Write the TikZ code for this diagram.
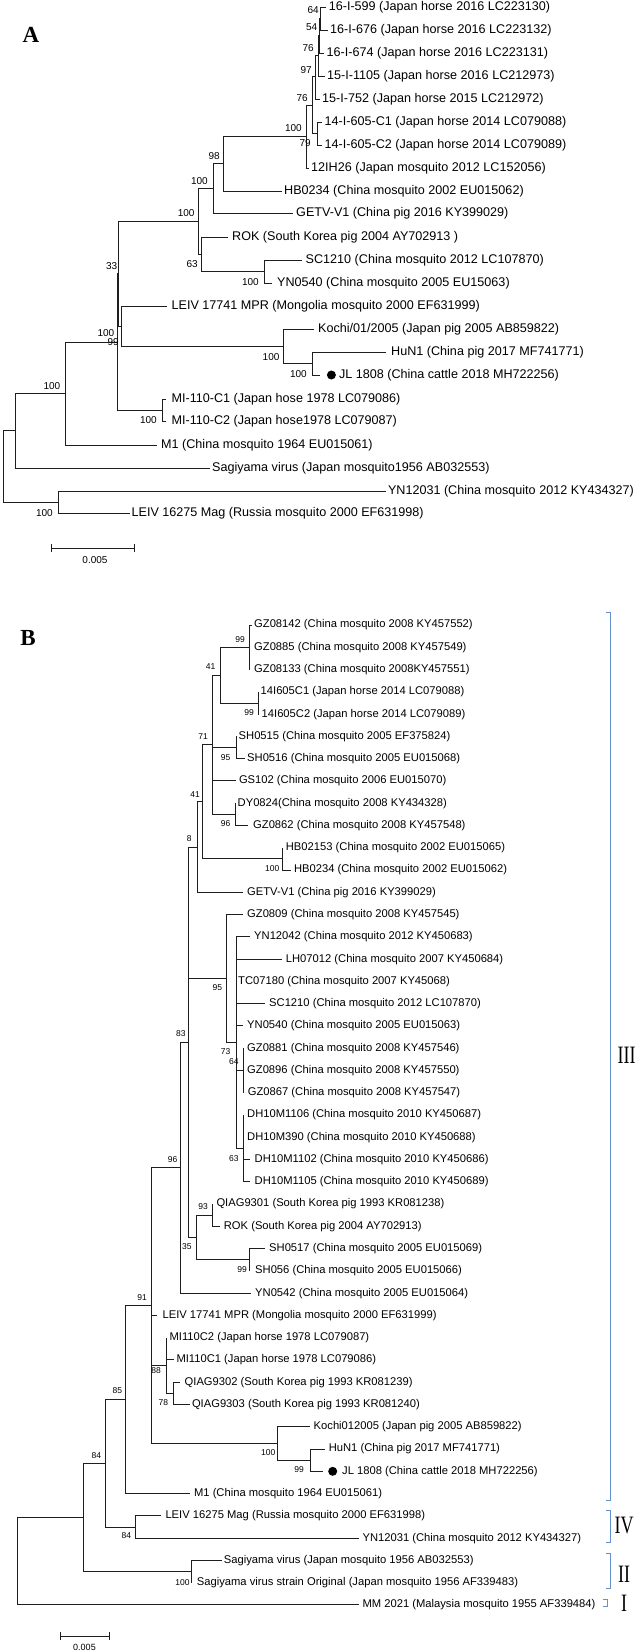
\documentclass[tikz,border=0pt]{standalone}
\usepackage{fontspec}
\usepackage{graphicx}
\setmainfont{Liberation Sans}
\newfontfamily\rmn{Liberation Serif}
\definecolor{ln}{RGB}{30,30,30}
\definecolor{brk}{RGB}{100,145,205}
\tikzset{
 edge/.style={draw=ln, line width=0.9pt},
 leafA/.style={anchor=west, inner sep=0pt, font=\fontsize{12.6}{14}\selectfont},
 leafB/.style={anchor=west, inner sep=0pt, font=\fontsize{11.2}{13}\selectfont},
 bsA/.style={anchor=east, inner sep=0pt, font=\fontsize{10}{11}\selectfont},
 bsB/.style={anchor=east, inner sep=0pt, font=\fontsize{8.5}{10}\selectfont},
 panel/.style={inner sep=0pt, font=\rmn\bfseries\fontsize{23}{25}\selectfont},
 clade/.style={inner sep=0pt, font=\rmn\fontsize{25}{27}\selectfont},
 bracket/.style={draw=brk, line width=0.7pt},
 dot/.style={circle, fill=black, inner sep=0pt, minimum size=9pt},
}
\newcommand\lfa[5]{\coordinate (#1) at (#2,#4); \node[leafA] (#1t) at (#3,#4) {#5};}
\newcommand\lfb[5]{\coordinate (#1) at (#2,#4); \node[leafB] (#1t) at (#3,#4) {#5};}
\newcommand\inn[3]{\coordinate (#1) at (#2,#3);}
\newcommand\bsa[4]{\node[bsA] (#1) at (#2,#3) {#4};}
\newcommand\bsb[4]{\node[bsB] (#1) at (#2,#3) {#4};}
\begin{document}
\begin{tikzpicture}[x=1pt,y=-1pt]
\useasboundingbox (0,0) rectangle (638,1652);
\fill[white] (0,0) rectangle (638,1652);
% ---------------- Panel A ----------------
\node[panel] (PA) at (31,35) {A};
\lfa{a0}{326}{328.6}{7}{16-I-599 (Japan horse 2016 LC223130)}
\lfa{a1}{327.5}{330}{30}{16-I-676 (Japan horse 2016 LC223132)}
\lfa{a2}{324}{326.5}{53}{16-I-674 (Japan horse 2016 LC223131)}
\lfa{a3}{324.5}{327}{76}{15-I-1105 (Japan horse 2016 LC212973)}
\lfa{a4}{319.5}{322}{99}{15-I-752 (Japan horse 2015 LC212972)}
\lfa{a5}{322}{324.5}{122}{14-I-605-C1 (Japan horse 2014 LC079088)}
\lfa{a6}{322}{324.5}{145}{14-I-605-C2 (Japan horse 2014 LC079089)}
\lfa{a7}{308.5}{311}{168}{12IH26 (Japan mosquito 2012 LC152056)}
\lfa{a8}{281.6}{284}{191}{HB0234 (China mosquito 2002 EU015062)}
\lfa{a9}{293}{296}{213}{GETV-V1 (China pig 2016 KY399029)}
\lfa{a10}{228}{232}{237}{ROK (South Korea pig 2004 AY702913 )}
\lfa{a11}{302}{305.5}{260}{SC1210 (China mosquito 2012 LC107870)}
\lfa{a12}{272}{277}{283}{YN0540 (China mosquito 2005 EU15063)}
\lfa{a13}{167.3}{171.4}{306}{LEIV 17741 MPR (Mongolia mosquito 2000 EF631999)}
\lfa{a14}{314.3}{318}{329}{Kochi/01/2005 (Japan pig 2005 AB859822)}
\lfa{a15}{385.7}{391}{352}{HuN1 (China pig 2017 MF741771)}
\lfa{a16}{320}{338.8}{375}{JL 1808 (China cattle 2018 MH722256)}
\node[dot] (dA) at (331.4,375) {};
\lfa{a17}{166}{171.4}{399}{MI-110-C1 (Japan hose 1978 LC079086)}
\lfa{a18}{166}{171.4}{421}{MI-110-C2 (Japan hose1978 LC079087)}
\lfa{a19}{157}{161}{445}{M1 (China mosquito 1964 EU015061)}
\lfa{a20}{210}{212}{468}{Sagiyama virus (Japan mosquito1956 AB032553)}
\lfa{a21}{385.7}{387.8}{491}{YN12031 (China mosquito 2012 KY434327)}
\lfa{a22}{129.8}{131.4}{513}{LEIV 16275 Mag (Russia mosquito 2000 EF631998)}
\inn{n1}{320.5}{18.5}
\inn{n2}{319.5}{35}
\inn{n3}{318}{55}
\inn{n4}{315}{76.5}
\inn{n5}{317.5}{133.5}
\inn{n6}{312}{105}
\inn{n7}{306}{136}
\inn{n8}{223.7}{163.5}
\inn{n9}{213.5}{188}
\inn{n12}{264.5}{271.5}
\inn{n11}{201}{254}
\inn{n10}{198.8}{221}
\inn{nh}{312}{363.5}
\inn{nk}{283.7}{346.5}
\inn{nb}{121.6}{326}
\inn{na}{118.5}{273.5}
\inn{nm}{162.4}{410}
\inn{nc}{117.5}{342}
\inn{nd}{65.3}{393.5}
\inn{ne}{15.1}{430.7}
\inn{nf}{58.4}{502}
\inn{rA}{3.7}{466}
\foreach \p/\c in {n1/a0,n1/a1,n2/n1,n2/a2,n3/n2,n3/a3,n4/n3,n4/a4,n5/a5,n5/a6,
  n6/n4,n6/n5,n7/n6,n7/a7,n8/n7,n8/a8,n9/n8,n9/a9,n10/n9,n10/n11,n11/a10,n11/n12,
  n12/a11,n12/a12,na/n10,na/nb,nb/a13,nb/nk,nk/a14,nk/nh,nh/a15,nh/a16,nm/a17,nm/a18,
  nc/na,nc/nm,nd/nc,nd/a19,ne/nd,ne/a20,nf/a21,nf/a22,rA/ne,rA/nf}
  {\draw[edge] (\p) |- (\c);}
\bsa{ba1}{319}{10}{64}
\bsa{ba2}{317.5}{27}{54}
\bsa{ba3}{314}{48}{76}
\bsa{ba4}{312}{70}{97}
\bsa{ba5}{311}{143}{79}
\bsa{ba6}{308}{98}{76}
\bsa{ba7}{302}{128}{100}
\bsa{ba8}{220}{156}{98}
\bsa{ba9}{208}{181}{100}
\bsa{ba10}{194.7}{213}{100}
\bsa{ba11}{198}{264}{63}
\bsa{ba12}{259}{282}{100}
\bsa{ba13}{117.5}{266}{33}
\bsa{ba14}{114.5}{333}{100}
\bsa{ba15}{119}{342}{99}
\bsa{ba16}{279.6}{357}{100}
\bsa{ba17}{307}{374}{100}
\bsa{ba18}{157}{420}{100}
\bsa{ba19}{60.4}{386}{100}
\bsa{ba20}{53}{513}{100}
\coordinate (sa1) at (51,548);
\coordinate (sa2) at (134.7,548);
\draw[edge] (sa1) -- (sa2);
\draw[edge] ([yshift=4pt]sa1) -- ([yshift=-4pt]sa1);
\draw[edge] ([yshift=4pt]sa2) -- ([yshift=-4pt]sa2);
\node[font=\fontsize{10}{11}\selectfont, inner sep=0pt] (sal) at (95,560) {0.005};
% ---------------- Panel B ----------------
\node[panel] (PB) at (28,638) {B};
\lfb{b0}{252}{254}{625.0}{GZ08142 (China mosquito 2008 KY457552)}
\lfb{b1}{249.8}{254}{647.3}{GZ0885 (China mosquito 2008 KY457549)}
\lfb{b2}{249.8}{254}{669.5}{GZ08133 (China mosquito 2008KY457551)}
\lfb{b3}{258}{260.5}{691.8}{14I605C1 (Japan horse 2014 LC079088)}
\lfb{b4}{259}{261.5}{714.1}{14I605C2 (Japan horse 2014 LC079089)}
\lfb{b5}{237}{238.5}{736.4}{SH0515 (China mosquito 2005 EF375824)}
\lfb{b6}{245}{247}{758.6}{SH0516 (China mosquito 2005 EU015068)}
\lfb{b7}{236}{238.8}{780.9}{GS102 (China mosquito 2006 EU015070)}
\lfb{b8}{235.5}{237.5}{803.2}{DY0824(China mosquito 2008 KY434328)}
\lfb{b9}{248}{253}{825.4}{GZ0862 (China mosquito 2008 KY457548)}
\lfb{b10}{282.4}{285.7}{847.7}{HB02153 (China mosquito 2002 EU015065)}
\lfb{b11}{290.6}{293.9}{870.0}{HB0234 (China mosquito 2002 EU015062)}
\lfb{b12}{243}{247}{892.2}{GETV-V1 (China pig 2016 KY399029)}
\lfb{b13}{243}{247}{914.5}{GZ0809 (China mosquito 2008 KY457545)}
\lfb{b14}{250}{254}{936.8}{YN12042 (China mosquito 2012 KY450683)}
\lfb{b15}{281.6}{285.7}{959.1}{LH07012 (China mosquito 2007 KY450684)}
\lfb{b16}{236}{238}{981.3}{TC07180 (China mosquito 2007 KY45068)}
\lfb{b17}{265.3}{269}{1003.6}{SC1210 (China mosquito 2012 LC107870)}
\lfb{b18}{243}{247}{1025.9}{YN0540 (China mosquito 2005 EU015063)}
\lfb{b19}{243.7}{247}{1048.1}{GZ0881 (China mosquito 2008 KY457546)}
\lfb{b20}{243.7}{247}{1070.4}{GZ0896 (China mosquito 2008 KY457550)}
\lfb{b21}{243.7}{247.7}{1092.7}{GZ0867 (China mosquito 2008 KY457547)}
\lfb{b22}{243.7}{247}{1114.9}{DH10M1106 (China mosquito 2010 KY450687)}
\lfb{b23}{243.7}{247}{1137.2}{DH10M390 (China mosquito 2010 KY450688)}
\lfb{b24}{250}{254.5}{1159.5}{DH10M1102 (China mosquito 2010 KY450686)}
\lfb{b25}{250}{254.5}{1181.8}{DH10M1105 (China mosquito 2010 KY450689)}
\lfb{b26}{212.2}{216.3}{1204.0}{QIAG9301 (South Korea pig 1993 KR081238)}
\lfb{b27}{220.4}{223.7}{1226.3}{ROK (South Korea pig 2004 AY702913)}
\lfb{b28}{265.3}{269}{1248.6}{SH0517 (China mosquito 2005 EU015069)}
\lfb{b29}{249.8}{255}{1270.8}{SH056 (China mosquito 2005 EU015066)}
\lfb{b30}{251}{255}{1293.1}{YN0542 (China mosquito 2005 EU015064)}
\lfb{b31}{157}{162.4}{1315.4}{LEIV 17741 MPR (Mongolia mosquito 2000 EF631999)}
\lfb{b32}{166.5}{169.4}{1337.6}{MI110C2 (Japan horse 1978 LC079087)}
\lfb{b33}{173.5}{176.3}{1359.9}{MI110C1 (Japan horse 1978 LC079086)}
\lfb{b34}{179.6}{184.5}{1382.2}{QIAG9302 (South Korea pig 1993 KR081239)}
\lfb{b35}{189.8}{191.8}{1404.4}{QIAG9303 (South Korea pig 1993 KR081240)}
\lfb{b36}{310.2}{313.5}{1426.7}{Kochi012005 (Japan pig 2005 AB859822)}
\lfb{b37}{324.5}{328.6}{1449.0}{HuN1 (China pig 2017 MF741771)}
\lfb{b38}{323.3}{342}{1471.3}{JL 1808 (China cattle 2018 MH722256)}
\node[dot] (dB) at (332.7,1471.3) {};
\lfb{b39}{189.8}{193.9}{1493.5}{M1 (China mosquito 1964 EU015061)}
\lfb{b40}{161.2}{165.3}{1515.8}{LEIV 16275 Mag (Russia mosquito 2000 EF631998)}
\lfb{b41}{359.2}{362.4}{1538.1}{YN12031 (China mosquito 2012 KY434327)}
\lfb{b42}{221.6}{223.7}{1560.3}{Sagiyama virus (Japan mosquito 1956 AB032553)}
\lfb{b43}{191.8}{196.7}{1582.6}{Sagiyama virus strain Original (Japan mosquito 1956 AF339483)}
\lfb{b44}{359.2}{362.4}{1604.9}{MM 2021 (Malaysia mosquito 1955 AF339484)}
\inn{g1}{249.8}{647.3}
\inn{g14}{258}{703}
\inn{g2}{220.4}{675}
\inn{gSH}{236}{747.5}
\inn{gDY}{235.5}{814.3}
\inn{g3}{212.5}{744.7}
\inn{gHB}{282.4}{858.9}
\inn{g4}{202.9}{801.8}
\inn{g5}{197.1}{847}
\inn{gtrip}{243.7}{1070.4}
\inn{gDH}{243.7}{1148.3}
\inn{gsub}{236}{1042.6}
\inn{g95}{226.5}{978.5}
\inn{g93}{212.2}{1215.2}
\inn{gSHb}{249.8}{1259.7}
\inn{g35}{196.7}{1237.4}
\inn{g6}{188.6}{1042.2}
\inn{g83}{180.8}{1167.7}
\inn{g78}{173.5}{1393.3}
\inn{g88}{166.5}{1365.5}
\inn{g99}{310.2}{1460.1}
\inn{gK}{277.6}{1443.4}
\inn{g91}{151}{1305.5}
\inn{g85}{125.7}{1399.5}
\inn{gIV}{135.9}{1527}
\inn{g84}{105.3}{1463.2}
\inn{gII}{191.8}{1571.5}
\inn{gR}{83.7}{1517.4}
\inn{rB}{17.1}{1561}
\foreach \p/\c in {g1/b0,g1/b1,g1/b2,g14/b3,g14/b4,g2/g1,g2/g14,gSH/b5,gSH/b6,gDY/b8,gDY/b9,
  g3/g2,g3/gSH,g3/b7,g3/gDY,gHB/b10,gHB/b11,g4/g3,g4/gHB,g5/g4,g5/b12,
  gtrip/b19,gtrip/b20,gtrip/b21,gDH/b22,gDH/b23,gDH/b24,gDH/b25,
  gsub/b14,gsub/b15,gsub/b16,gsub/b17,gsub/b18,gsub/gtrip,gsub/gDH,g95/b13,g95/gsub,
  g93/b26,g93/b27,gSHb/b28,gSHb/b29,g35/g93,g35/gSHb,g6/g5,g6/g95,g6/g35,g83/g6,g83/b30,
  g78/b34,g78/b35,g88/b32,g88/b33,g88/g78,g99/b37,g99/b38,gK/b36,gK/g99,
  g91/g83,g91/b31,g91/g88,g91/gK,g85/g91,g85/b39,gIV/b40,gIV/b41,g84/g85,g84/gIV,
  gII/b42,gII/b43,gR/g84,gR/gII,rB/gR,rB/b44}
  {\draw[edge] (\p) |- (\c);}
\bsb{bb1}{245}{640}{99}
\bsb{bb2}{254}{713}{99}
\bsb{bb3}{215.5}{667}{41}
\bsb{bb4}{230.6}{758}{95}
\bsb{bb5}{230.6}{824}{96}
\bsb{bb6}{208}{737}{71}
\bsb{bb7}{279.6}{869}{100}
\bsb{bb8}{200}{795}{41}
\bsb{bb9}{191.8}{839}{8}
\bsb{bb10}{238.8}{1062}{64}
\bsb{bb11}{238.8}{1159}{63}
\bsb{bb12}{230.6}{1052}{73}
\bsb{bb13}{222.4}{988}{95}
\bsb{bb14}{208}{1207}{93}
\bsb{bb15}{247}{1270}{99}
\bsb{bb16}{191.8}{1247}{35}
\bsb{bb17}{185.7}{1034}{83}
\bsb{bb18}{177.6}{1160}{96}
\bsb{bb19}{168.2}{1403}{78}
\bsb{bb20}{161}{1371}{88}
\bsb{bb21}{304}{1470}{99}
\bsb{bb22}{275.5}{1453}{100}
\bsb{bb23}{147}{1298}{91}
\bsb{bb24}{122.4}{1391}{85}
\bsb{bb25}{131.4}{1536}{84}
\bsb{bb26}{101.2}{1456}{84}
\bsb{bb27}{189.8}{1583}{100}
\coordinate (sb1) at (60.4,1636);
\coordinate (sb2) at (109.4,1636);
\draw[edge] (sb1) -- (sb2);
\draw[edge] ([yshift=4pt]sb1) -- ([yshift=-4pt]sb1);
\draw[edge] ([yshift=4pt]sb2) -- ([yshift=-4pt]sb2);
\node[font=\fontsize{9}{10}\selectfont, inner sep=0pt] (sbl) at (84.5,1647) {0.005};
% clade brackets
\draw[bracket] (606,612) -- (610,612) -- (610,1500) -- (606,1500);
\draw[bracket] (606,1510) -- (610,1510) -- (610,1542) -- (606,1542);
\draw[bracket] (606,1553) -- (610,1553) -- (610,1588) -- (606,1588);
\draw[bracket] (603,1599) -- (607,1599) -- (607,1606) -- (603,1606);
\node[clade] (c3) at (626.5,1055) {\scalebox{0.72}[1]{III}};
\node[clade] (c4) at (624,1525) {\scalebox{0.72}[1]{IV}};
\node[clade] (c2) at (624,1574) {\scalebox{0.72}[1]{II}};
\node[clade] (c1) at (624,1603) {\scalebox{0.72}[1]{I}};
\end{tikzpicture}
\end{document}
